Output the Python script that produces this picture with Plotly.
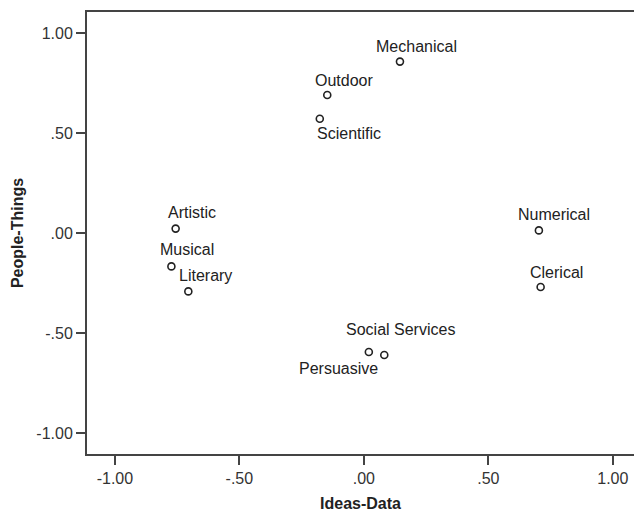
import plotly.graph_objects as go

labels = ["Mechanical", "Outdoor", "Scientific", "Artistic", "Musical", "Literary",
          "Numerical", "Clerical", "Social Services", "Persuasive"]
ideas_data = [0.145, -0.147, -0.177, -0.756, -0.773, -0.705, 0.703, 0.710, 0.082, 0.020]
people_things = [0.857, 0.690, 0.571, 0.022, -0.167, -0.292, 0.013, -0.270, -0.610, -0.595]

tick_vals = [-1.0, -0.5, 0.0, 0.5, 1.0]
tick_text = ["-1.00", "-.50", ".00", ".50", "1.00"]

# label pixel offsets (style only)
label_dx = [17, 17, 29, 16, 16, 17, 15, 16, 16, -30]
label_dy = [-15, -15, 15, -16, -17, -16, -16, -15, -26, 16]

FONT = "Liberation Sans, Arial, sans-serif"
AX = "#444444"

fig = go.Figure()
fig.add_trace(go.Scatter(
    x=ideas_data, y=people_things, mode="markers",
    marker=dict(symbol="circle-open", size=7, color="#222222", line=dict(width=1.6, color="#222222")),
    hoverinfo="text", text=labels, showlegend=False,
))

for lab, x, y, dx, dy in zip(labels, ideas_data, people_things, label_dx, label_dy):
    fig.add_annotation(x=x, y=y, text=lab, showarrow=False, xshift=dx, yshift=-dy,
                       font=dict(family=FONT, size=16, color="#222222"),
                       xanchor="center", yanchor="middle")

fig.update_layout(
    width=634, height=512,
    margin=dict(l=87, r=0, t=12, b=58),
    paper_bgcolor="white", plot_bgcolor="white",
    font=dict(family=FONT, size=16, color="#333333"),
    xaxis=dict(range=[-1.112, 1.085], tickvals=tick_vals, ticktext=tick_text,
               showgrid=False, zeroline=False, showline=True, linecolor=AX, linewidth=2,
               mirror=True, ticks="outside", ticklen=9, tickwidth=2, tickcolor=AX,
               title=dict(text="<b>Ideas-Data</b>", font=dict(family=FONT, size=16, color="#222222"), standoff=16),
               automargin=False),
    yaxis=dict(range=[-1.105, 1.105], tickvals=tick_vals, ticktext=tick_text,
               showgrid=False, zeroline=False, showline=True, linecolor=AX, linewidth=2,
               ticks="outside", ticklen=9, tickwidth=2, tickcolor=AX,
               title=dict(text="<b>People-Things</b>", font=dict(family=FONT, size=16, color="#222222"), standoff=9),
               automargin=False),
)

fig.write_html("out.html", config={"displayModeBar": False},
               post_script="document.body.style.margin='0';document.body.style.overflow='hidden';")
